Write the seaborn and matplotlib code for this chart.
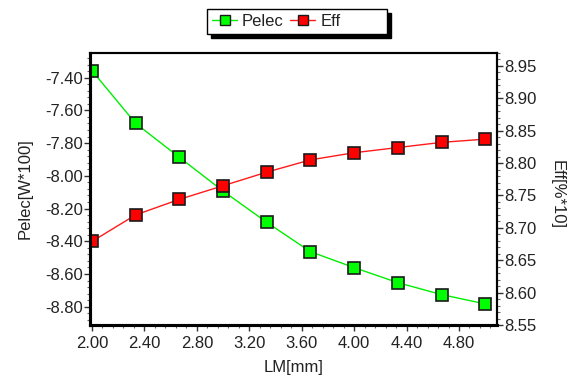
import matplotlib
matplotlib.use("Agg")
import matplotlib.pyplot as plt
import seaborn as sns
import numpy as np
import pandas as pd
from matplotlib.ticker import AutoMinorLocator, FixedLocator
from matplotlib.lines import Line2D

# ---- data ----
lm = [2.000, 2.333, 2.667, 3.000, 3.333, 3.667, 4.000, 4.333, 4.667, 5.000]
pelec = [-7.357, -7.679, -7.887, -8.093, -8.284, -8.464, -8.561, -8.653, -8.726, -8.783]
eff = [8.679, 8.720, 8.744, 8.765, 8.786, 8.805, 8.816, 8.824, 8.832, 8.837]
x_ticks = [2.00, 2.40, 2.80, 3.20, 3.60, 4.00, 4.40, 4.80]
left_ticks = [-8.80, -8.60, -8.40, -8.20, -8.00, -7.80, -7.60, -7.40]
right_ticks = [8.55, 8.60, 8.65, 8.70, 8.75, 8.80, 8.85, 8.90, 8.95]

df = pd.DataFrame({"LM": lm, "Pelec": pelec, "Eff": eff})

sns.set_style("ticks")
plt.rcParams["font.family"] = ["Liberation Sans", "DejaVu Sans"]

fig = plt.figure(figsize=(5.81, 3.77), dpi=100)
ax = fig.add_axes([90/581, 1-325/377, 407/581, 272/377])
ax2 = ax.twinx()

green = "#00ee00"
red = "#ff1a1a"
mk = dict(marker="s", markersize=8, markeredgecolor="#1a1a1a", markeredgewidth=1.2)

sns.lineplot(data=df, x="LM", y="Pelec", ax=ax, color=green, linewidth=1.0,
             markerfacecolor="#00ff00", **mk)
sns.lineplot(data=df, x="LM", y="Eff", ax=ax2, color=red, linewidth=1.0,
             markerfacecolor="#ff0000", **mk)

ax.set_xlim(1.985, 5.09)
ax.set_ylim(-8.912, -7.249)
ax2.set_ylim(8.55, 8.97)

ax.xaxis.set_major_locator(FixedLocator(x_ticks))
ax.set_xticklabels([f"{v:.2f}" for v in x_ticks])
ax.xaxis.set_minor_locator(AutoMinorLocator(5))
ax.yaxis.set_major_locator(FixedLocator(left_ticks))
ax.set_yticklabels([f"{v:.2f}" for v in left_ticks])
ax.yaxis.set_minor_locator(AutoMinorLocator(5))
ax2.yaxis.set_major_locator(FixedLocator(right_ticks))
ax2.set_yticklabels([f"{v:.2f}" for v in right_ticks])
ax2.yaxis.set_minor_locator(AutoMinorLocator(5))

fs = 12
tc = "#222222"
for a in (ax, ax2):
    a.tick_params(which="major", length=4, width=1.0, color="#333333",
                  labelsize=fs, labelcolor=tc, direction="out")
    a.tick_params(which="minor", length=2.2, width=0.8, color="#666666", direction="out")
ax.tick_params(axis="y", pad=1.2)
ax.tick_params(axis="x", pad=4)
ax2.tick_params(axis="y", pad=1.0)

for a in (ax, ax2):
    for s in a.spines.values():
        s.set_color("black")
        s.set_visible(True)
    a.spines["left"].set_linewidth(2.2)
    a.spines["bottom"].set_linewidth(2.2)
    a.spines["top"].set_linewidth(1.5)
    a.spines["right"].set_linewidth(1.5)

ax.set_xlabel("LM[mm]", fontsize=fs, color=tc)
ax.set_ylabel("Pelec[W*100]", fontsize=fs, color=tc)
ax2.set_ylabel("Eff[%*10]", fontsize=fs, color=tc, rotation=-90)
ax.xaxis.set_label_coords(0.5, -0.128)
ax.yaxis.set_label_coords(-0.14, 0.5)
ax2.yaxis.set_label_coords(1.167, 0.48)

h1 = Line2D([], [], color=green, markerfacecolor="#00ff00", marker="s", markersize=7,
            markeredgecolor="#1a1a1a", markeredgewidth=1.0, linewidth=1.0)
h2 = Line2D([], [], color=red, markerfacecolor="#ff0000", marker="s", markersize=7,
            markeredgecolor="#1a1a1a", markeredgewidth=1.0, linewidth=1.0)
h3 = Line2D([], [], alpha=0)
leg = fig.legend([h1, h2, h3], ["Pelec", "Eff", " "], loc="upper left",
                 bbox_to_anchor=(207/581, 1-9/377), ncol=3, frameon=True, fancybox=False,
                 shadow={"ox": 3, "oy": -3, "color": "black", "alpha": 1},
                 fontsize=fs, handlelength=1.5, handletextpad=0.3, columnspacing=0.4,
                 borderpad=0.3, borderaxespad=0)
leg.get_frame().set_edgecolor("black")
leg.get_frame().set_linewidth(1.0)
for t in leg.get_texts():
    t.set_color(tc)

fig.savefig("out.png", dpi=100)
